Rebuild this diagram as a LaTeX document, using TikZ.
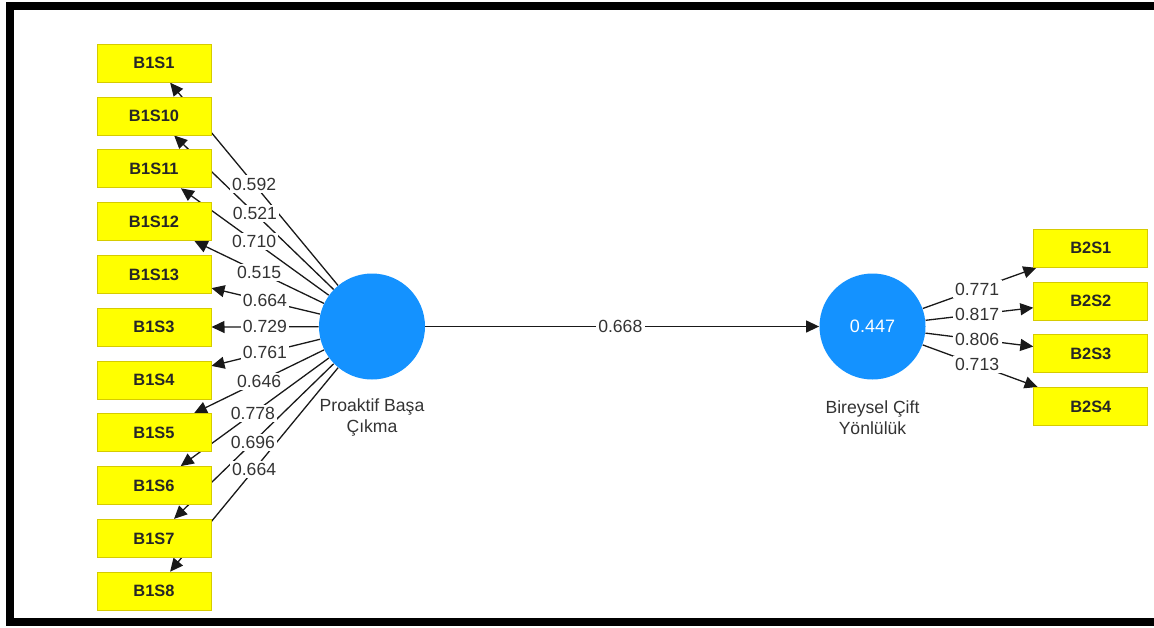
\documentclass[tikz,border=0pt]{standalone}
\usepackage{fontspec}
\setmainfont{Liberation Sans}
\usetikzlibrary{arrows.meta,calc,backgrounds}
\definecolor{boxyellow}{HTML}{FFFF00}
\definecolor{boxborder}{HTML}{D6CB00}
\definecolor{lvblue}{HTML}{1492FF}
\definecolor{txt}{HTML}{333333}
\begin{document}
\begin{tikzpicture}[x=0.5pt,y=-0.5pt,
  ind/.style={draw=boxborder,line width=0.5pt,fill=boxyellow,minimum width=57pt,minimum height=19pt,inner sep=0pt,font=\fontsize{8.2}{9}\selectfont\bfseries,text=black!85},
  lv/.style={circle,fill=lvblue,minimum size=53pt,inner sep=0pt},
  edge/.style={line width=0.65pt,black!90,-{Triangle[length=6.5pt,width=6pt]}},
  lbl/.style={fill=white,inner sep=1.2pt,font=\fontsize{8.8}{10}\selectfont,text=txt},
  lvname/.style={align=center,font=\fontsize{8.8}{10.5}\selectfont,text=txt}]
\useasboundingbox (0,0) rectangle (1154,627);
\fill[black] (6,2) rectangle (1154,10);
\fill[black] (6,2) rectangle (14,626);
\fill[black] (6,618) rectangle (1154,626);
% latent variables
\node[lv] (P) at (372,326.5) {};
\node[lv,text=white,font=\fontsize{9}{10}\selectfont] (B) at (872.5,326.5) {0.447};
\node[lvname] (Pn) at (372,417.5) {Proaktif Başa\\Çıkma};
\node[lvname] (Bn) at (872.5,417.5) {Bireysel Çift\\Yönlülük};
% indicator boxes
\node[ind] (b1)  at (154,63.2)  {B1S1};
\node[ind] (b10) at (154,116)   {B1S10};
\node[ind] (b11) at (154,168.8) {B1S11};
\node[ind] (b12) at (154,221.6) {B1S12};
\node[ind] (b13) at (154,274.4) {B1S13};
\node[ind] (b3)  at (154,327.2) {B1S3};
\node[ind] (b4)  at (154,380)   {B1S4};
\node[ind] (b5)  at (154,432.8) {B1S5};
\node[ind] (b6)  at (154,485.6) {B1S6};
\node[ind] (b7)  at (154,538.4) {B1S7};
\node[ind] (b8)  at (154,591.2) {B1S8};
\node[ind] (c1) at (1090.8,248.3) {B2S1};
\node[ind] (c2) at (1090.8,301)   {B2S2};
\node[ind] (c3) at (1090.8,353.7) {B2S3};
\node[ind] (c4) at (1090.8,406.5) {B2S4};
\begin{scope}[on background layer]
  \draw[edge] (P) -- (b1);
  \draw[edge] (P) -- (b10);
  \draw[edge] (P) -- (b11);
  \draw[edge] (P) -- (b12);
  \draw[edge] (P) -- (b13);
  \draw[edge] (P) -- (b3);
  \draw[edge] (P) -- (b4);
  \draw[edge] (P) -- (b5);
  \draw[edge] (P) -- (b6);
  \draw[edge] (P) -- (b7);
  \draw[edge] (P) -- (b8);
  \draw[edge] (B) -- (c1);
  \draw[edge] (B) -- (c2);
  \draw[edge] (B) -- (c3);
  \draw[edge] (B) -- (c4);
  \draw[edge] (P) -- (B) node[lbl,pos=0.495] (m) {0.668};
  \node[lbl] (l1)  at ($(P.center)!0.541!(b1.center)$)  {0.592};
  \node[lbl] (l10) at ($(P.center)!0.537!(b10.center)$) {0.521};
  \node[lbl] (l11) at ($(P.center)!0.541!(b11.center)$) {0.710};
  \node[lbl] (l12) at ($(P.center)!0.518!(b12.center)$) {0.515};
  \node[lbl] (l13) at ($(P.center)!0.491!(b13.center)$) {0.664};
  \node[lbl] (l3)  at ($(P.center)!0.491!(b3.center)$)  {0.729};
  \node[lbl] (l4)  at ($(P.center)!0.491!(b4.center)$)  {0.761};
  \node[lbl] (l5)  at ($(P.center)!0.518!(b5.center)$)  {0.646};
  \node[lbl] (l6)  at ($(P.center)!0.546!(b6.center)$)  {0.778};
  \node[lbl] (l7)  at ($(P.center)!0.546!(b7.center)$)  {0.696};
  \node[lbl] (l8)  at ($(P.center)!0.541!(b8.center)$)  {0.664};
  \node[lbl] (r1) at ($(B.center)!0.479!(c1.center)$) {0.771};
  \node[lbl] (r2) at ($(B.center)!0.479!(c2.center)$) {0.817};
  \node[lbl] (r3) at ($(B.center)!0.479!(c3.center)$) {0.806};
  \node[lbl] (r4) at ($(B.center)!0.479!(c4.center)$) {0.713};
\end{scope}
\end{tikzpicture}
\end{document}
